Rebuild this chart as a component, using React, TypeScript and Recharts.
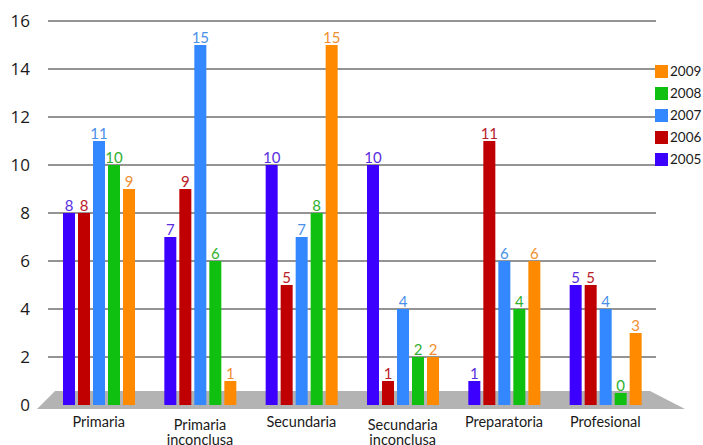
import React from 'react';
import { BarChart, Bar, XAxis, YAxis, CartesianGrid, LabelList, ReferenceArea } from 'recharts';

const categories = ['Primaria', 'Primaria inconclusa', 'Secundaria', 'Secundaria inconclusa', 'Preparatoria', 'Profesional'];
const years = ['2005', '2006', '2007', '2008', '2009'];
const v2005 = [8, 7, 10, 10, 1, 5];
const v2006 = [8, 9, 5, 1, 11, 5];
const v2007 = [11, 15, 7, 4, 6, 4];
const v2008 = [10, 6, 8, 2, 4, 0];
const v2009 = [9, 1, 15, 2, 6, 3];
const yTicks = [0, 2, 4, 6, 8, 10, 12, 14, 16];

const barColors = ['#3c00ff', '#c00000', '#3388ff', '#10c010', '#ff8a00'];
const labelColors = ['#5a2ee0', '#b8202a', '#4a90e8', '#30b030', '#f09030'];

const series = [v2005, v2006, v2007, v2008, v2009];
const data = categories.map((c, i) => {
  const row: any = { name: c };
  years.forEach((y, k) => { row[y] = series[k][i]; });
  return row;
});

const FONT = 'Lato, "Open Sans", sans-serif';

// gray perspective floor under the bars
const Floor = (props: any) => {
  const { x, y, width, height } = props;
  const b = y + height;
  return (
    <polygon
      points={`${x + 7},${b - 14} ${x + width - 6},${b - 14} ${x + width + 29},${b + 4} ${x - 11},${b + 4}`}
      fill="#b3b3b3"
    />
  );
};

const CatTick = ({ x, y, payload }: any) => {
  const words = String(payload.value).split(' ');
  return (
    <text x={x} y={y} textAnchor="middle" fill="#1a1a1a" fontSize={14.5} fontFamily={FONT}>
      {words.map((w, i) => (
        <tspan key={i} x={x} dy={i === 0 ? (words.length > 1 ? 17 : 14) : 15}>{w}</tspan>
      ))}
    </text>
  );
};

export default function App() {
  return (
    <div style={{ position: 'absolute', left: 0, top: 0, width: 703, height: 445, background: '#fff', overflow: 'hidden' }}>
      <BarChart
        width={703}
        height={445}
        data={data}
        margin={{ top: 21, right: 47, bottom: 10, left: 8 }}
        barSize={12}
        barGap={3}
      >
        <CartesianGrid horizontal vertical={false} stroke="#707070" strokeWidth={1.5} />
        <ReferenceArea y1={0} y2={16} ifOverflow="visible" shape={<Floor />} />
        <XAxis
          dataKey="name"
          height={30}
          axisLine={false}
          tickLine={false}
          interval={0}
          tick={<CatTick />}
        />
        <YAxis
          domain={[0, 16]}
          ticks={yTicks}
          width={40}
          axisLine={false}
          tickLine={false}
          tickMargin={12}
          tick={{ fill: '#1a1a1a', fontSize: 17, fontFamily: '"Open Sans", sans-serif' }}
        />
        {years.map((y, k) => (
          <Bar key={y} dataKey={y} fill={barColors[k]} minPointSize={12} isAnimationActive={false}>
            <LabelList
              dataKey={y}
              position="top"
              offset={2}
              fill={labelColors[k]}
              fontSize={15}
              fontFamily={FONT}
            />
          </Bar>
        ))}
      </BarChart>
      <div style={{ position: 'absolute', left: 655, top: 60, fontFamily: FONT, fontSize: 13.5, color: '#1a1a1a' }}>
        {years.slice().reverse().map((y) => {
          const k = years.indexOf(y);
          return (
            <div key={y} style={{ display: 'flex', alignItems: 'center', height: 22 }}>
              <span style={{ display: 'inline-block', width: 13, height: 13, background: barColors[k], marginRight: 2 }} />
              <span>{y}</span>
            </div>
          );
        })}
      </div>
    </div>
  );
}
